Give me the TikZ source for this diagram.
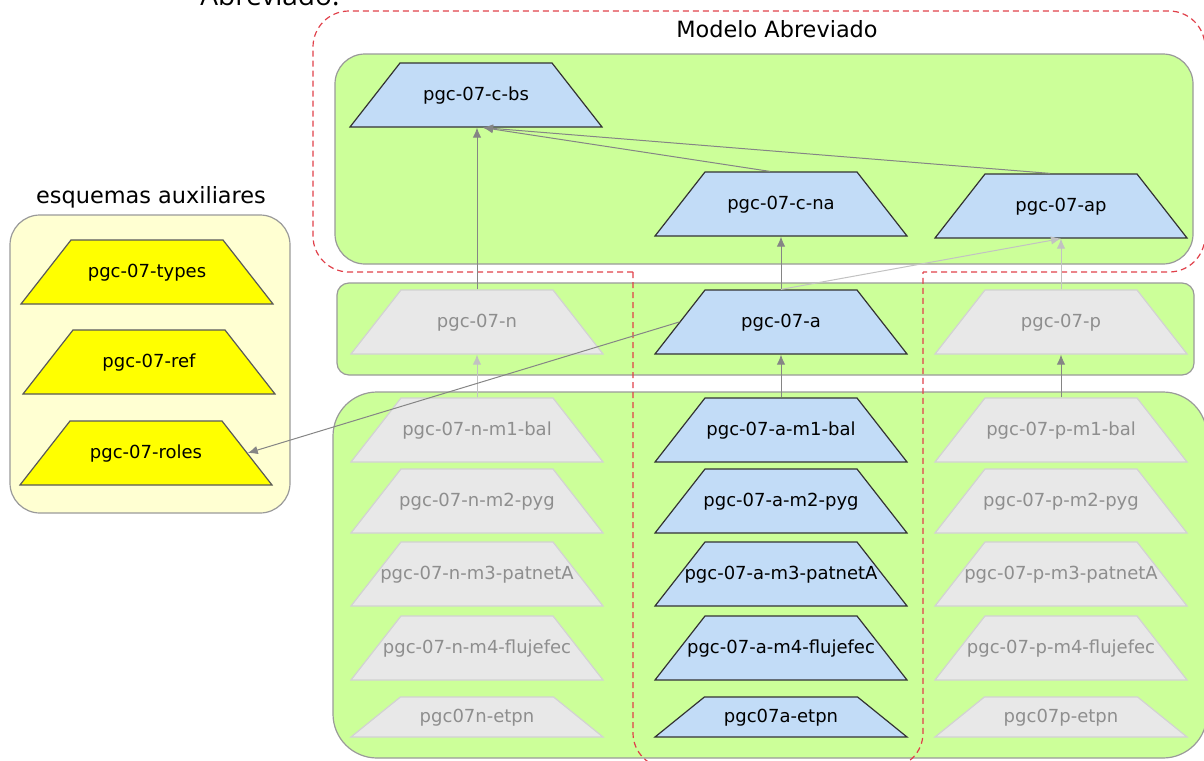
\documentclass[tikz,border=0pt]{standalone}
\usepackage{fontspec}
\setmainfont{DejaVu Sans}
\newfontfamily\docfont{Open Sans}
\usetikzlibrary{shapes.geometric, arrows.meta, calc}

\definecolor{verde}{HTML}{CCFF99}
\definecolor{bordeverde}{HTML}{9A9A9A}
\definecolor{crema}{HTML}{FFFFD2}
\definecolor{azulclaro}{HTML}{C2DCF7}
\definecolor{grisclaro}{HTML}{E8E8E8}
\definecolor{bordegris}{HTML}{D2D2D2}
\definecolor{textogris}{HTML}{8E8E8E}
\definecolor{amarilloaux}{HTML}{FFFF00}
\definecolor{rojo}{HTML}{E0404A}
\definecolor{colflecha}{HTML}{858585}
\definecolor{colclaro}{HTML}{C2C2C2}

\tikzset{
  esquema/.style={trapezium, trapezium left angle=52, trapezium right angle=52,
    minimum width=0pt, minimum height=0pt, text height=7pt, text depth=2pt,
    inner xsep=38pt, inner ysep=11.5pt, line width=0.6pt, font=\fontsize{9}{11}\selectfont,
    execute at begin node={\hbox to 0pt\bgroup\hss},
    execute at end node={\hss\egroup}},
  bajo/.style={trapezium left angle=39, trapezium right angle=39, inner xsep=38.3pt, inner ysep=5.5pt},
  activo/.style={esquema, fill=azulclaro, draw=black!80, text=black},
  inactivo/.style={esquema, fill=grisclaro, draw=bordegris, text=textogris},
  auxiliar/.style={esquema, fill=amarilloaux, draw=black!65, text=black},
  grupo/.style={fill=verde, draw=bordeverde, line width=0.6pt},
  limite/.style={draw=rojo, line width=0.6pt, dash pattern=on 3pt off 2pt, rounded corners=18pt},
  flecha/.style={-{Latex[length=5pt,width=4.2pt]}, draw=colflecha, line width=0.5pt},
  tenue/.style={flecha, draw=colclaro},
  titulo/.style={font=\fontsize{11.2}{13}\selectfont, inner sep=0pt}
}

\begin{document}
\begin{tikzpicture}[x=0.5pt, y=-0.5pt]
\useasboundingbox (0,0) rectangle (1204,760);
\clip (0,0) rectangle (1204,760);

% page text cut off at the top
\node[anchor=base west, inner sep=0pt, font=\docfont\fontsize{14}{16}\selectfont] (cabecera) at (200,5) {Abreviado:};

% group boxes
\draw[grupo, rounded corners=15pt] (335,54) rectangle (1193,264);
\draw[grupo, rounded corners=6pt] (337,283) rectangle (1194,375);
\draw[grupo, rounded corners=22pt] (333,392) rectangle (1207,758);
\draw[fill=crema, draw=bordeverde, line width=0.6pt, rounded corners=15pt] (10,215) rectangle (290,513);

\node[titulo] (modelo) at (777,29) {Modelo Abreviado};
\node[titulo] (auxtit) at (151,197) {esquemas auxiliares};

% red outline of the abbreviated model
\draw[limite] (633,272) -- (313,272) -- (313,11) -- (1205,11) -- (1205,272) -- (923,272);
\draw[limite, rounded corners=17.5pt] (633,272) -- (633,768) -- (923,768) -- (923,272);

\node[activo] (cbs) at (476,95) {pgc-07-c-bs};
\node[activo] (cna) at (781,204) {pgc-07-c-na};
\node[activo] (ap) at (1061,206) {pgc-07-ap};

\node[inactivo] (n) at (477,322) {pgc-07-n};
\node[activo] (a) at (781,322) {pgc-07-a};
\node[inactivo] (p) at (1061,322) {pgc-07-p};

\foreach \c/\cx/\st in {n/477/inactivo, a/781/activo, p/1061/inactivo} {
  \foreach \m/\y in {m1-bal/430, m2-pyg/501, m3-patnetA/574, m4-flujefec/648}
    \node[\st] (\c-\m) at (\cx,\y) {pgc-07-\c-\m};
  \node[\st, bajo] (\c-etpn) at (\cx,717) {pgc07\c-etpn};
}

\node[auxiliar] (types) at (147,272) {pgc-07-types};
\node[auxiliar] (ref) at (149,362) {pgc-07-ref};
\node[auxiliar] (roles) at (146,453) {pgc-07-roles};

% dependencies
\coordinate (cbsin) at ($(cbs.bottom side)+(7,0)$);
\draw[flecha] (n.top side) -- (n.top side |- cbs.bottom side);
\draw[flecha] ($(cna.top side)+(-11,0)$) -- (cbsin);
\draw[flecha] ($(ap.top side)+(-11,0)$) -- (cbsin);
\draw[flecha] (a.top side) -- (cna.bottom side);
\draw[tenue] (a.top side) -- (ap.bottom side);
\draw[tenue] (p.top side) -- (ap.bottom side);
\draw[tenue] (n-m1-bal.top side) -- (n.bottom side);
\draw[flecha] (a-m1-bal.top side) -- (a.bottom side);
\draw[flecha] (p-m1-bal.top side) -- (p.bottom side);
\draw[flecha] (a.left side) -- (roles.right side);
\end{tikzpicture}
\end{document}
